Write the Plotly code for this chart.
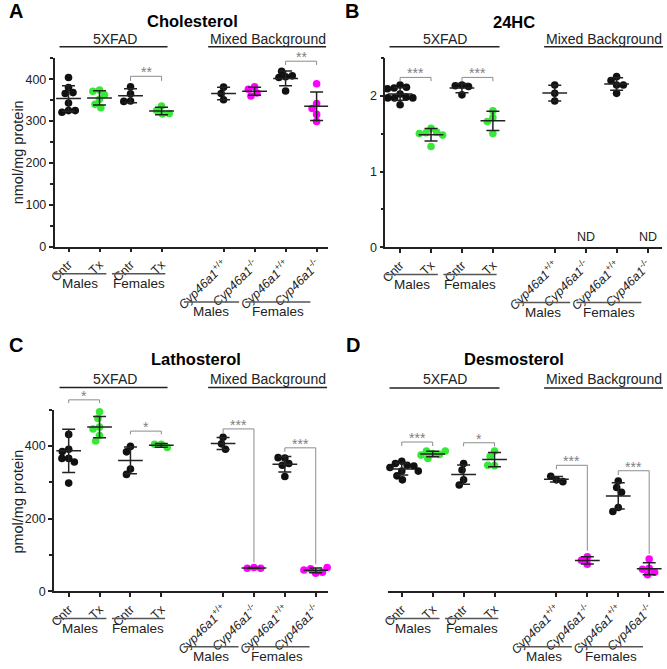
import math
import numpy as np
import plotly.graph_objects as go

W, H = 667, 669
FONT = "Liberation Sans, Arial, Helvetica, sans-serif"
BLACK = "#111111"
GREEN = "#38e838"
MAGENTA = "#ff00ff"
AXC = "#222222"
GRAY = "#8c8c8c"

# ---------------- data ----------------
positions = [0, 1, 2, 3, 5, 6, 7, 8]
cyp_pp = "<i>Cyp46a1</i><sup>+/+</sup>"
cyp_mm = "<i>Cyp46a1</i><sup>-/-</sup>"
tick_labels = ["Cntr", "Tx", "Cntr", "Tx", cyp_pp, cyp_mm, cyp_pp, cyp_mm]
group_colors = [BLACK, GREEN, BLACK, GREEN, BLACK, MAGENTA, BLACK, MAGENTA]

cholesterol = [
    [404, 380, 366, 368, 343, 325, 321, 325],
    [374, 371, 363, 352, 340, 332],
    [382, 365, 348, 347],
    [336, 325, 317, 318],
    [381, 366, 351],
    [382, 376, 367, 360],
    [406, 419, 408, 404, 372],
    [389, 342, 330, 316, 299],
]
hc24 = [
    [2.14, 2.10, 2.11, 2.09, 2.02, 1.97, 1.98, 1.97, 1.97, 1.88],
    [1.57, 1.51, 1.52, 1.50, 1.48, 1.33],
    [2.14, 2.13, 2.12, 2.01],
    [1.80, 1.71, 1.66, 1.50],
    [2.14, 2.03, 1.93],
    [],
    [2.25, 2.20, 2.14, 2.14, 2.03],
    [],
]
lathosterol = [
    [501, 432, 391, 385, 366, 366, 356, 298],
    [494, 476, 452, 447, 429, 414],
    [399, 384, 337, 322],
    [405, 405, 396],
    [424, 406, 391],
    [66, 64, 64],
    [367, 368, 352, 347, 316],
    [50, 62, 53, 59, 66],
]
desmosterol = [
    [358, 352, 347, 345, 341, 331, 331, 318, 307],
    [379, 386, 377, 375, 386, 366],
    [352, 334, 307, 293],
    [386, 372, 346, 347],
    [307, 317, 302],
    [95, 75, 86],
    [304, 286, 273, 231, 220],
    [89, 64, 61, 53, 46],
]
nd_groups_24hc = [5, 7]

# brackets: (group_i, group_j, y_left_end, y_top, y_right_end, label)
chol_brackets = [(2, 3, 396, 407, 396, "**"), (6, 7, 434, 443, 434, "**")]
hc_brackets = [(0, 1, 2.19, 2.24, 2.19, "***"), (2, 3, 2.19, 2.24, 2.19, "***")]
latho_brackets = [(0, 1, 518, 527, 518, "*"), (2, 3, 432, 441, 432, "*"),
                  (4, 5, 436, 447, 80, "***"), (6, 7, 384, 395, 75, "***")]
desmo_brackets = [(0, 1, 400, 411, 400, "***"), (2, 3, 399, 409, 399, "*"),
                  (4, 5, 336, 347, 112, "***"), (6, 7, 320, 332, 103, "***")]

panels = [
    dict(letter="A", letter_xy=(10, 11), title="Cholesterol", title_xy=(188, 21),
         values=cholesterol, brackets=chol_brackets, nd=[],
         left=49, right=325, top=58.9, bottom=249.3, xr=[-0.45, 8.37], yr=[0, 450],
         dtick=100, minor=50, showy=True, ytitle="nmol/mg protein", ytitle_xy=(12, 154),
         head_y=39, line_y=47.3, h5=(110, 54, 163), hm=(264, 204, 323)),
    dict(letter="B", letter_xy=(349, 11), title="24HC", title_xy=(513, 22),
         values=hc24, brackets=hc_brackets, nd=nd_groups_24hc,
         left=382.7, right=661.7, top=58.3, bottom=250, xr=[-0.48, 8.46], yr=[0, 2.5],
         dtick=1, minor=0.5, showy=True, ytitle=None, ytitle_xy=None,
         head_y=39, line_y=47.3, h5=(443, 387, 498), hm=(603, 543, 663)),
    dict(letter="C", letter_xy=(10, 349), title="Lathosterol", title_xy=(192, 363),
         values=lathosterol, brackets=latho_brackets, nd=[],
         left=48.3, right=325, top=414, bottom=597.7, xr=[-0.48, 8.4], yr=[0, 500],
         dtick=200, minor=100, showy=True, ytitle="pmol/mg protein", ytitle_xy=(12, 507),
         head_y=383, line_y=391.7, h5=(110, 54, 163), hm=(264.5, 204, 324)),
    dict(letter="D", letter_xy=(350, 349), title="Desmosterol", title_xy=(513, 363),
         values=desmosterol, brackets=desmo_brackets, nd=[],
         left=385, right=664, top=414, bottom=597.7, xr=[-0.46, 8.48], yr=[0, 500],
         dtick=200, minor=100, showy=False, ytitle=None, ytitle_xy=None,
         head_y=383, line_y=392, h5=(443, 387, 498), hm=(603, 543, 663)),
]

# sub-group underlines below axis (data x extents) and labels
sub_groups = [("Males", -0.47, 1.22, 0), ("Females", 1.4, 3.12, 0),
              ("Males", 3.72, 5.5, 1), ("Females", 5.7, 7.8, 1)]


def px_x(p, xv):
    return p["left"] + (xv - p["xr"][0]) / (p["xr"][1] - p["xr"][0]) * (p["right"] - p["left"])


def px_y(p, yv):
    return p["bottom"] - (yv - p["yr"][0]) / (p["yr"][1] - p["yr"][0]) * (p["bottom"] - p["top"])


def PX(x):
    return x / W


def PY(y):
    return 1 - y / H


def swarm(vals, ppx, ppy, d=6.8):
    placed = []
    out = []
    for v in vals:
        y = v * ppy
        cands = [0.0]
        for (qx, qy) in placed:
            dy = abs(qy - y)
            if dy < d:
                dx = math.sqrt(d * d - dy * dy)
                cands += [qx + dx + 1e-6, qx - dx - 1e-6]
        cands.sort(key=lambda c: (abs(c), c))
        x = 0.0
        for c in cands:
            if all((c - qx) ** 2 + (y - qy) ** 2 >= d * d - 1e-4 for qx, qy in placed):
                x = c
                break
        placed.append((x, y))
        out.append(x / ppx)
    return out


fig = go.Figure()
layout = dict(width=W, height=H, margin=dict(l=0, r=0, t=0, b=0), autosize=False,
              paper_bgcolor="white", plot_bgcolor="white", showlegend=False,
              font=dict(family=FONT, color=AXC))
shapes = []
annotations = []

for i, p in enumerate(panels, start=1):
    xk = "x" if i == 1 else f"x{i}"
    yk = "y" if i == 1 else f"y{i}"
    xa = "xaxis" if i == 1 else f"xaxis{i}"
    ya = "yaxis" if i == 1 else f"yaxis{i}"
    ppx = (p["right"] - p["left"]) / (p["xr"][1] - p["xr"][0])
    ppy = (p["bottom"] - p["top"]) / (p["yr"][1] - p["yr"][0])

    layout[xa] = dict(domain=[PX(p["left"]), PX(p["right"])], anchor=yk, range=p["xr"],
                      showline=True, linecolor=AXC, linewidth=1.5, showgrid=False, zeroline=False,
                      ticks="outside", ticklen=4, tickwidth=1.5, tickcolor=AXC,
                      tickvals=positions, ticktext=tick_labels, tickangle=-45,
                      tickfont=dict(size=12.5, family=FONT, color=AXC), fixedrange=True)
    ydict = dict(domain=[PY(p["bottom"]), PY(p["top"])], anchor=xk, range=p["yr"],
                 showgrid=False, zeroline=False, fixedrange=True)
    if p["showy"]:
        ydict.update(showline=True, linecolor=AXC, linewidth=1.5, ticks="outside", ticklen=4,
                     tickwidth=1.5, tickcolor=AXC, dtick=p["dtick"], tick0=0,
                     tickfont=dict(size=12.5, family=FONT, color=AXC),
                     minor=dict(dtick=p["minor"], ticks="outside", ticklen=3, tickwidth=1.5,
                                tickcolor=AXC, showgrid=False))
    else:
        ydict.update(showline=False, showticklabels=False, ticks="")
    layout[ya] = ydict

    # points
    for g, vals in enumerate(p["values"]):
        if len(vals) == 0:
            continue
        offs = swarm(vals, ppx, ppy)
        xs = [positions[g] + o for o in offs]
        fig.add_trace(go.Scatter(x=xs, y=vals, mode="markers", xaxis=xk, yaxis=yk,
                                 marker=dict(size=7.6, color=group_colors[g], line=dict(width=0)),
                                 cliponaxis=False, hoverinfo="skip"))
    # mean +/- SD
    for g, vals in enumerate(p["values"]):
        if len(vals) == 0:
            continue
        m = float(np.mean(vals))
        sd = float(np.std(vals, ddof=1))
        fig.add_trace(go.Scatter(x=[positions[g]], y=[m], mode="markers", xaxis=xk, yaxis=yk,
                                 marker=dict(size=1, color="rgba(0,0,0,0)"),
                                 error_y=dict(type="data", array=[sd], color=AXC, thickness=1.5, width=6.5),
                                 error_x=dict(type="constant", value=0.4, color=AXC, thickness=1.5, width=0),
                                 cliponaxis=False, hoverinfo="skip"))

    # brackets
    for (gi, gj, yl, yt, yr_, lab) in p["brackets"]:
        x0 = PX(px_x(p, positions[gi]))
        x1 = PX(px_x(p, positions[gj]))
        yL = PY(px_y(p, yl))
        yT = PY(px_y(p, yt))
        yR = PY(px_y(p, yr_))
        shapes.append(dict(type="path", xref="paper", yref="paper",
                           path=f"M {x0},{yL} L {x0},{yT} L {x1},{yT} L {x1},{yR}",
                           line=dict(color=GRAY, width=1)))
        annotations.append(dict(x=(x0 + x1) / 2, y=yT, xref="paper", yref="paper", text=lab,
                                showarrow=False, xanchor="center", yanchor="bottom", yshift=-6,
                                font=dict(size=14, family=FONT, color="#808080")))
    # ND
    for g in p["nd"]:
        annotations.append(dict(x=PX(px_x(p, positions[g])), y=PY(p["bottom"] - 10), xref="paper",
                                yref="paper", text="ND", showarrow=False, xanchor="center",
                                yanchor="middle", font=dict(size=12.5, family=FONT, color=AXC)))

    # titles / letters
    annotations.append(dict(x=PX(p["letter_xy"][0]), y=PY(p["letter_xy"][1]), xref="paper", yref="paper",
                            text=f"<b>{p['letter']}</b>", showarrow=False, xanchor="center",
                            yanchor="middle", font=dict(size=20, family=FONT, color="#000")))
    annotations.append(dict(x=PX(p["title_xy"][0]), y=PY(p["title_xy"][1]), xref="paper", yref="paper",
                            text=f"<b>{p['title']}</b>", showarrow=False, xanchor="center",
                            yanchor="middle", font=dict(size=16.5, family=FONT, color="#000")))
    for (cx, lx0, lx1), txt in ((p["h5"], "5XFAD"), (p["hm"], "Mixed Background")):
        annotations.append(dict(x=PX(cx), y=PY(p["head_y"]), xref="paper", yref="paper", text=txt,
                                showarrow=False, xanchor="center", yanchor="middle",
                                font=dict(size=14, family=FONT, color=AXC)))
        shapes.append(dict(type="line", xref="paper", yref="paper", x0=PX(lx0), x1=PX(lx1),
                           y0=PY(p["line_y"]), y1=PY(p["line_y"]), line=dict(color=AXC, width=1.5)))
    if p["ytitle"]:
        annotations.append(dict(x=PX(p["ytitle_xy"][0]), y=PY(p["ytitle_xy"][1]), xref="paper",
                                yref="paper", text=p["ytitle"], textangle=-90, showarrow=False,
                                xanchor="center", yanchor="middle",
                                font=dict(size=14.5, family=FONT, color=AXC)))
    # sub-group lines below axis
    for (lab, gx0, gx1, row) in sub_groups:
        ly = p["bottom"] + (27.3 if row == 0 else 55.8)
        ty = p["bottom"] + (37.5 if row == 0 else 65.5)
        shapes.append(dict(type="line", xref="paper", yref="paper", x0=PX(px_x(p, gx0)),
                           x1=PX(px_x(p, gx1)), y0=PY(ly), y1=PY(ly), line=dict(color="#555", width=1.5)))
        annotations.append(dict(x=PX(px_x(p, (gx0 + gx1) / 2)), y=PY(ty), xref="paper", yref="paper",
                                text=lab, showarrow=False, xanchor="center", yanchor="middle",
                                font=dict(size=13.5, family=FONT, color=AXC)))

layout["shapes"] = shapes
layout["annotations"] = annotations
fig.update_layout(**layout)
fig.write_html("out.html", config={"displayModeBar": False},
               post_script="document.body.style.margin='0px';document.body.style.padding='0px';document.body.style.overflow='hidden';")
